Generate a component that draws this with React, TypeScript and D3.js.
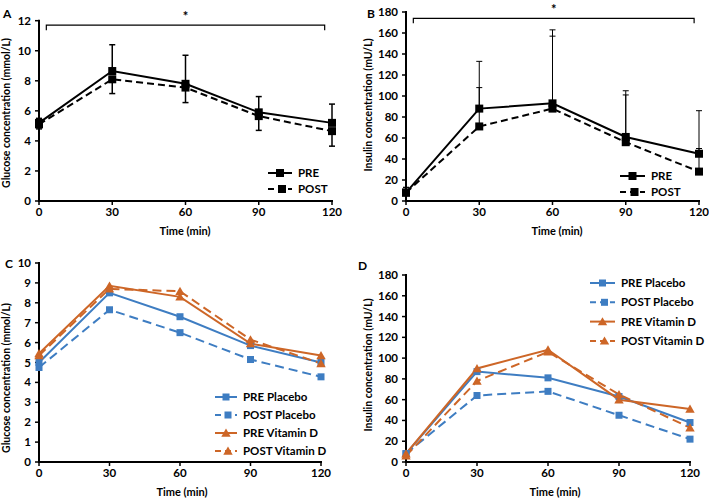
import React from "react";
import * as d3 from "d3";

// time points (min)
const times = [0, 30, 60, 90, 120];

// panel A - glucose, all participants
const glucosePre = [5.2, 8.65, 7.8, 5.9, 5.2];
const glucosePost = [5.1, 8.1, 7.55, 5.65, 4.65];
const glucosePreErr = [0.3, 1.75, 1.9, 1.05, 1.25]; // drawn upward
const glucosePostErr = [0.3, 0.95, 1.0, 0.95, 1.0]; // drawn downward

// panel B - insulin, all participants
const insulinPre = [8, 88, 93, 61, 45];
const insulinPost = [8, 71, 88, 56, 28];
const insulinPreErr = [5, 45, 70, 44, 41];
const insulinPostErr = [5, 37, 69, 45, 22];

// panel C - glucose by group
const gluPrePlacebo = [5.0, 8.5, 7.3, 5.85, 5.0];
const gluPostPlacebo = [4.75, 7.65, 6.5, 5.15, 4.28];
const gluPreVitD = [5.45, 8.85, 8.3, 5.95, 5.35];
const gluPostVitD = [5.35, 8.7, 8.58, 6.15, 4.95];

// panel D - insulin by group
const insPrePlacebo = [8, 87, 81, 63, 38];
const insPostPlacebo = [8, 64, 68, 45, 22];
const insPreVitD = [8, 90, 108, 60, 51];
const insPostVitD = [6, 78, 106, 65, 33];

// significance brackets [x start, x end, y]
const bracketA = [3, 117, 11.7];
const bracketB = [3, 118, 174];

const FONT = "Lato, 'Open Sans', Arial, sans-serif";
const BLUE = "#3e7dc2";
const ORANGE = "#cd6627";

type Series = {
  name: string;
  values: number[];
  color: string;
  dash?: string;
  marker: "square" | "triangle";
  markerSize: number;
  err?: number[];
  errDir?: 1 | -1;
};

type PanelProps = {
  letter: string;
  letterPos: [number, number];
  xr: [number, number];
  yr: [number, number];
  yMax: number;
  yStep: number;
  yTitle: string;
  yTitleX: number;
  yTitleY: number;
  xTitleX: number;
  series: Series[];
  legend: { x: number; y: number; gap: number; len: number };
  bracket?: number[];
  errWidth?: number;
  axisWidth?: number;
  lineWidth?: number;
};

const Marker = ({ s, x, y }: { s: Series; x: number; y: number }) => {
  if (s.marker === "square") {
    const h = s.markerSize / 2;
    return <rect x={x - h} y={y - h} width={s.markerSize} height={s.markerSize} fill={s.color} />;
  }
  const path = d3.symbol(d3.symbolTriangle, s.markerSize * s.markerSize * 0.6)();
  return <path d={path || ""} transform={`translate(${x},${y + 1})`} fill={s.color} />;
};

const Panel = (p: PanelProps) => {
  const x = d3.scaleLinear().domain([0, 120]).range(p.xr);
  const y = d3.scaleLinear().domain([0, p.yMax]).range(p.yr);
  const yTicks = d3.range(0, p.yMax + p.yStep / 2, p.yStep);
  const line = d3
    .line<number>()
    .x((_, i) => x(times[i]))
    .y((d) => y(d));
  const aw = p.axisWidth ?? 2;
  const lw = p.lineWidth ?? 2;

  return (
    <g fontFamily={FONT} fontWeight="bold">
      <text x={p.letterPos[0]} y={p.letterPos[1]} fontSize={12}>
        {p.letter}
      </text>

      {/* y axis */}
      <line x1={p.xr[0]} x2={p.xr[0]} y1={p.yr[1] - 1} y2={p.yr[0] + aw / 2} stroke="#000" strokeWidth={aw} />
      {yTicks.map((t) => (
        <g key={"y" + t}>
          <line x1={p.xr[0] - 4} x2={p.xr[0]} y1={y(t)} y2={y(t)} stroke="#000" strokeWidth={1.5} />
          <text x={p.xr[0] - 8} y={y(t)} dy="0.35em" textAnchor="end" fontSize={11.5}>
            {t}
          </text>
        </g>
      ))}
      {/* x axis */}
      <line x1={p.xr[0] - 1} x2={p.xr[1] + 1} y1={p.yr[0]} y2={p.yr[0]} stroke="#000" strokeWidth={aw} />
      {times.map((t) => (
        <g key={"x" + t}>
          <line x1={x(t)} x2={x(t)} y1={p.yr[0]} y2={p.yr[0] + 4} stroke="#000" strokeWidth={1.5} />
          <text x={x(t)} y={p.yr[0] + 15} textAnchor="middle" fontSize={11.5}>
            {t}
          </text>
        </g>
      ))}
      <text x={p.xTitleX} y={p.yr[0] + 34} textAnchor="middle" fontSize={11}>
        Time (min)
      </text>
      <text
        transform={`translate(${p.yTitleX},${p.yTitleY}) rotate(-90)`}
        textAnchor="middle"
        fontSize={10.5}
      >
        {p.yTitle}
      </text>

      {p.bracket && (
        <g>
          <path
            d={`M${x(p.bracket[0])},${y(p.bracket[2]) + 5}V${y(p.bracket[2])}H${x(p.bracket[1])}V${
              y(p.bracket[2]) + 5
            }`}
            fill="none"
            stroke="#000"
            strokeWidth={1.2}
          />
          <text
            x={(x(p.bracket[0]) + x(p.bracket[1])) / 2}
            y={y(p.bracket[2]) - 4}
            textAnchor="middle"
            fontSize={13}
          >
            *
          </text>
        </g>
      )}

      {/* error bars */}
      {p.series.map((s) =>
        s.err
          ? s.values.map((v, i) => {
              const end = v + (s.errDir ?? 1) * s.err![i];
              return (
                <g key={s.name + "e" + i} stroke="#000" strokeWidth={p.errWidth ?? 1.5}>
                  <line x1={x(times[i])} x2={x(times[i])} y1={y(v)} y2={y(end)} />
                  <line x1={x(times[i]) - 3} x2={x(times[i]) + 3} y1={y(end)} y2={y(end)} />
                </g>
              );
            })
          : null
      )}

      {p.series.map((s) => (
        <path
          key={s.name}
          d={line(s.values) || ""}
          fill="none"
          stroke={s.color}
          strokeWidth={lw}
          strokeDasharray={s.dash}
        />
      ))}
      {p.series.map((s) =>
        s.values.map((v, i) => <Marker key={s.name + i} s={s} x={x(times[i])} y={y(v)} />)
      )}

      {/* legend */}
      {p.series.map((s, i) => {
        const ly = p.legend.y + i * p.legend.gap;
        return (
          <g key={"lg" + s.name}>
            <line
              x1={p.legend.x}
              x2={p.legend.x + p.legend.len}
              y1={ly}
              y2={ly}
              stroke={s.color}
              strokeWidth={lw}
              strokeDasharray={s.dash ? "6,4" : undefined}
            />
            <Marker s={s} x={p.legend.x + p.legend.len / 2 + (s.dash ? 2 : 0)} y={ly} />
            <text x={p.legend.x + p.legend.len + 6} y={ly} dy="0.35em" fontSize={11.5}>
              {s.name}
            </text>
          </g>
        );
      })}
    </g>
  );
};

export default function App() {
  const seriesA: Series[] = [
    { name: "PRE", values: glucosePre, color: "#000", marker: "square", markerSize: 8, err: glucosePreErr, errDir: 1 },
    { name: "POST", values: glucosePost, color: "#000", dash: "7,4", marker: "square", markerSize: 8, err: glucosePostErr, errDir: -1 },
  ];
  const seriesB: Series[] = [
    { name: "PRE", values: insulinPre, color: "#000", marker: "square", markerSize: 8, err: insulinPreErr, errDir: 1 },
    { name: "POST", values: insulinPost, color: "#000", dash: "7,4", marker: "square", markerSize: 8, err: insulinPostErr, errDir: 1 },
  ];
  const seriesC: Series[] = [
    { name: "PRE Placebo", values: gluPrePlacebo, color: BLUE, marker: "square", markerSize: 7 },
    { name: "POST Placebo", values: gluPostPlacebo, color: BLUE, dash: "9,5", marker: "square", markerSize: 7 },
    { name: "PRE Vitamin D", values: gluPreVitD, color: ORANGE, marker: "triangle", markerSize: 8 },
    { name: "POST Vitamin D", values: gluPostVitD, color: ORANGE, dash: "9,5", marker: "triangle", markerSize: 8 },
  ];
  const seriesD: Series[] = [
    { name: "PRE Placebo", values: insPrePlacebo, color: BLUE, marker: "square", markerSize: 7 },
    { name: "POST Placebo", values: insPostPlacebo, color: BLUE, dash: "9,5", marker: "square", markerSize: 7 },
    { name: "PRE Vitamin D", values: insPreVitD, color: ORANGE, marker: "triangle", markerSize: 8 },
    { name: "POST Vitamin D", values: insPostVitD, color: ORANGE, dash: "9,5", marker: "triangle", markerSize: 8 },
  ];

  return (
    <svg
      width={709}
      height={500}
      style={{ position: "absolute", left: 0, top: 0, background: "#fff" }}
    >
      <Panel
        letter="A"
        letterPos={[3, 18]}
        xr={[39, 332]}
        yr={[201, 20.7]}
        yMax={12}
        yStep={2}
        yTitle="Glucose concentration (mmol/L)"
        yTitleX={10}
        yTitleY={113}
        xTitleX={185}
        series={seriesA}
        legend={{ x: 268, y: 173, gap: 16, len: 24 }}
        bracket={bracketA}
        errWidth={1.5}
      />
      <Panel
        letter="B"
        letterPos={[367, 18]}
        xr={[406, 699]}
        yr={[201, 12]}
        yMax={180}
        yStep={20}
        yTitle="Insulin concentration (mU/L)"
        yTitleX={372}
        yTitleY={105}
        xTitleX={557}
        series={seriesB}
        legend={{ x: 620, y: 176, gap: 16, len: 25 }}
        bracket={bracketB}
        errWidth={1}
      />
      <Panel
        letter="C"
        letterPos={[5, 268]}
        xr={[39, 321]}
        yr={[462, 263]}
        yMax={10}
        yStep={1}
        yTitle="Glucose concentration (mmol/L)"
        yTitleX={10}
        yTitleY={378}
        xTitleX={182}
        series={seriesC}
        legend={{ x: 215, y: 397, gap: 18, len: 22 }}
      />
      <Panel
        letter="D"
        letterPos={[358, 270]}
        xr={[406, 690]}
        yr={[462, 275]}
        yMax={180}
        yStep={20}
        yTitle="Insulin concentration (mU/L)"
        yTitleX={372}
        yTitleY={365}
        xTitleX={555}
        series={seriesD}
        legend={{ x: 590, y: 283, gap: 19.3, len: 25 }}
      />
    </svg>
  );
}
